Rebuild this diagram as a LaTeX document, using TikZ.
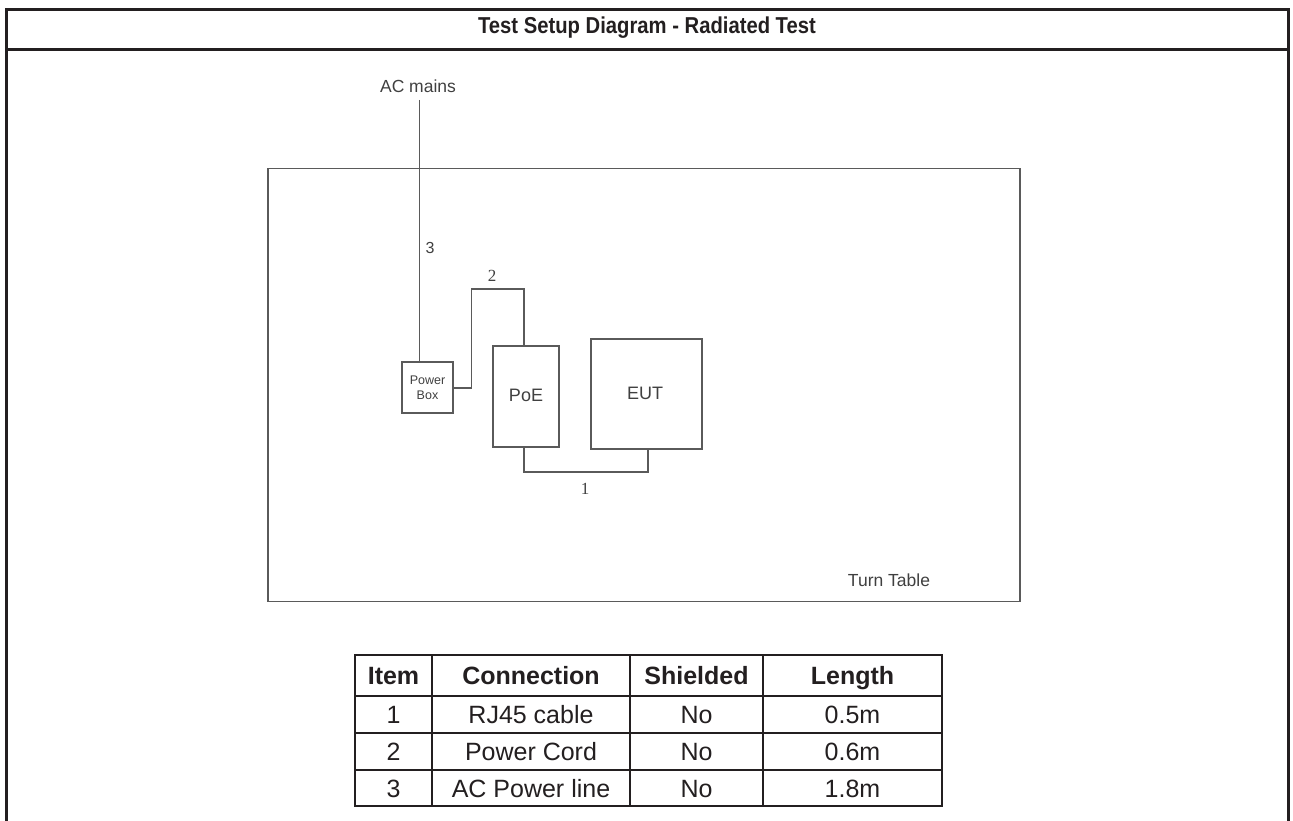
\documentclass[tikz,border=0pt]{standalone}
\usepackage{fontspec}
\setmainfont{Liberation Sans}
\newfontfamily\numserif{Liberation Serif}
\newfontfamily\titlefont[FakeStretch=0.88]{Liberation Sans}
\definecolor{framecol}{HTML}{231F20}
\definecolor{diaggray}{HTML}{5A5A5A}
\definecolor{diagtext}{HTML}{404040}
\begin{document}
\begin{tikzpicture}[x=1pt,y=-1pt,
  frameline/.style={draw=framecol,line width=3pt},
  tblline/.style={draw=framecol,line width=2pt},
  diagline/.style={draw=diaggray,line width=1.6pt},
  devbox/.style={draw=diaggray,line width=1.6pt,rectangle,inner sep=0pt,text=diagtext,font=\fontsize{17}{19}\selectfont},
  difftext/.style={text=diagtext,inner sep=0pt},
  cell/.style={inner sep=0pt,anchor=base,text=framecol,font=\fontsize{25}{28}\selectfont},
  hcell/.style={cell,font=\fontsize{25}{28}\selectfont\bfseries}
]
\useasboundingbox (0,0) rectangle (1293,821);
\fill[white] (0,0) rectangle (1293,821);
% outer frame
\draw[frameline] (6.5,840) -- (6.5,9.5) -- (1288.5,9.5) -- (1288.5,840);
\draw[frameline] (6.5,50) -- (1288.5,50);
\node[inner sep=0pt,text=framecol,font=\titlefont\fontsize{23}{25}\selectfont\bfseries] (title) at (647,28) {Test Setup Diagram - Radiated Test};
% turn table
\node[draw=diaggray,line width=1.6pt,rectangle,inner sep=0pt,minimum width=752pt,minimum height=433pt] (tt) at (644,385) {};
\node[difftext,font=\fontsize{17.5}{19}\selectfont] (ttlabel) at (889,580) {Turn Table};
% devices
\node[devbox,minimum width=51pt,minimum height=51pt,align=center,font=\fontsize{12.5}{15}\selectfont] (pbox) at (427.5,387.5) {Power\\Box};
\node[devbox,minimum width=66pt,minimum height=101pt] (poe) at (526,396.5) {};
\node[difftext,font=\fontsize{18}{20}\selectfont] (poetext) at (526,395) {PoE};
\node[devbox,minimum width=111pt,minimum height=110pt] (eut) at (646.5,394) {};
\node[difftext,font=\fontsize{18}{20}\selectfont] (euttext) at (645,393) {EUT};
% AC mains
\node[difftext,font=\fontsize{17.5}{19}\selectfont] (ac) at (418,86) {AC mains};
\coordinate (actop) at (419.5,100);
\draw[diagline] (actop) -- (actop |- pbox.north);
\node[difftext,font=\fontsize{16}{18}\selectfont] (l3) at (430,248) {3};
% cable 2
\coordinate (c2a) at (471.5,388);
\coordinate (c2b) at (471.5,289);
\coordinate (c2c) at (524,289);
\draw[diagline] (pbox.east |- c2a) -- (c2a) -- (c2b) -- (c2c) -- (c2c |- poe.north);
\node[difftext,font=\fontsize{17}{19}\selectfont\numserif] (l2) at (492,276) {2};
% cable 1
\coordinate (c1a) at (524,472);
\coordinate (c1b) at (648,472);
\draw[diagline] (c1a |- poe.south) -- (c1a) -- (c1b) -- (c1b |- eut.south);
\node[difftext,font=\fontsize{17}{19}\selectfont\numserif] (l1) at (585,489) {1};
% table
\draw[tblline] (355,655) rectangle (942,806);
\foreach \yy in {696,733,770} \draw[tblline] (355,\yy) -- (942,\yy);
\foreach \xx in {432,630,763} \draw[tblline] (\xx,655) -- (\xx,806);
\node[hcell] (h1) at (393.5,684.5) {Item};
\node[hcell] (h2) at (531,684.5) {Connection};
\node[hcell] (h3) at (696.5,684.5) {Shielded};
\node[hcell] (h4) at (852.5,684.5) {Length};
\node[cell] (r11) at (393.5,723) {1};
\node[cell] (r12) at (531,723) {RJ45 cable};
\node[cell] (r13) at (696.5,723) {No};
\node[cell] (r14) at (852.5,723) {0.5m};
\node[cell] (r21) at (393.5,760) {2};
\node[cell] (r22) at (531,760) {Power Cord};
\node[cell] (r23) at (696.5,760) {No};
\node[cell] (r24) at (852.5,760) {0.6m};
\node[cell] (r31) at (393.5,797) {3};
\node[cell] (r32) at (531,797) {AC Power line};
\node[cell] (r33) at (696.5,797) {No};
\node[cell] (r34) at (852.5,797) {1.8m};
\end{tikzpicture}
\end{document}
